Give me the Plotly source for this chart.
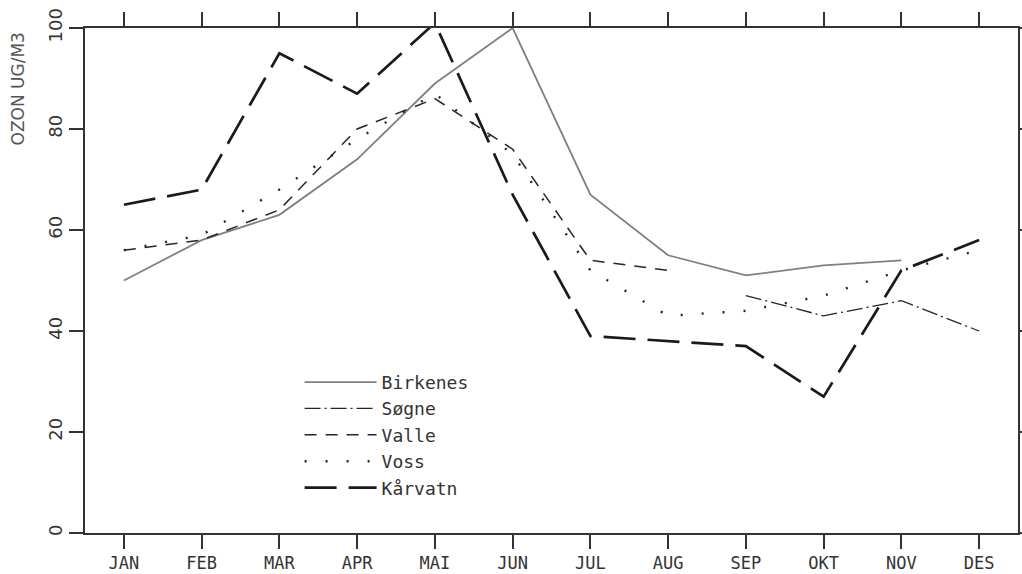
import plotly.graph_objects as go

months = ["JAN", "FEB", "MAR", "APR", "MAI", "JUN", "JUL", "AUG", "SEP", "OKT", "NOV", "DES"]
birkenes = [50, 58, 63, 74, 89, 100, 67, 55, 51, 53, 54, None]
sogne = [None, None, None, None, None, None, None, None, 47, 43, 46, 40]
valle = [56, 58, 64, 80, 86, 76, 54, 52, None, None, None, None]
voss = [56, 59, 68, 78, 87, 75, 52, 43, 44, 47, 52, 56]
karvatn = [65, 68, 95, 87, 101, 67, 39, 38, 37, 27, 52, 58]
y_ticks = [0, 20, 40, 60, 80, 100]

DARK = "#262626"
fig = go.Figure()
series = [
    ("Birkenes", birkenes, dict(color="#808080", width=1.8, dash="solid")),
    ("Søgne", sogne, dict(color=DARK, width=1.3, dash="16px,4px,2px,4px")),
    ("Valle", valle, dict(color=DARK, width=1.5, dash="12px,9px")),
    ("Voss", voss, dict(color=DARK, width=2.4, dash="2px,19px")),
    ("Kårvatn", karvatn, dict(color="#1a1a1a", width=2.7, dash="32px,12px")),
]
for name, vals, line in series:
    fig.add_trace(go.Scatter(x=months, y=vals, name=name, mode="lines", line=line,
                             cliponaxis=False, connectgaps=False))

axis_common = dict(showline=True, linecolor="#333333", linewidth=1.5, mirror="ticks",
                   ticks="outside", ticklen=14, tickwidth=1.5, tickcolor="#333333",
                   showgrid=False, zeroline=False, automargin=False)
fig.update_xaxes(range=[-0.5, 11.5], ticklabelstandoff=0,
                 tickfont=dict(family="DejaVu Sans Mono", size=17, color="#333333"),
                 **axis_common)
fig.update_yaxes(range=[0, 100], tickvals=y_ticks, tickangle=-90,
                 tickfont=dict(family="DejaVu Sans", size=18, color="#333333"), **axis_common)

fig.add_annotation(text="OZON UG/M3", textangle=-90, xref="paper", yref="paper",
                   x=-0.072, y=0.88, xanchor="center", yanchor="middle", showarrow=False,
                   font=dict(family="DejaVu Sans", size=17, color="#555555"))

fig.update_layout(
    width=1022, height=574,
    margin=dict(l=85, r=4, t=28, b=41, autoexpand=False),
    paper_bgcolor="white", plot_bgcolor="white",
    showlegend=True,
    legend=dict(x=0.23, y=0.335, xanchor="left", yanchor="top", bgcolor="rgba(0,0,0,0)",
                font=dict(family="DejaVu Sans Mono", size=18, color="#333333"),
                itemwidth=72, traceorder="normal"),
)
fig.write_html("out.html")
